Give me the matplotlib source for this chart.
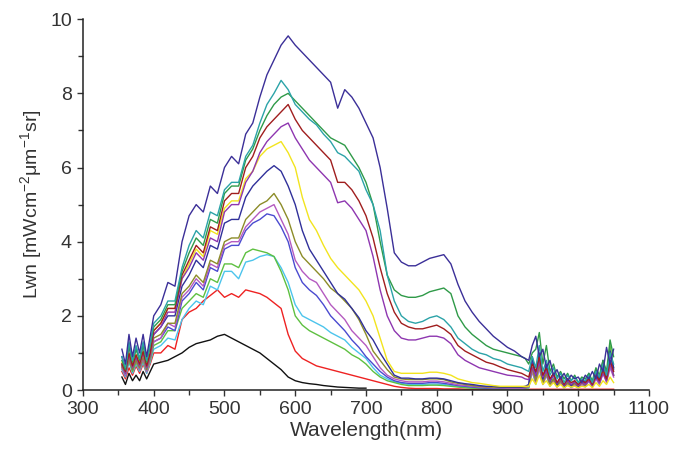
import numpy as np
import matplotlib
matplotlib.use("Agg")
import matplotlib.pyplot as plt
from matplotlib.ticker import MultipleLocator

plt.rcParams['font.family'] = ['Liberation Sans', 'DejaVu Sans']
plt.rcParams['mathtext.fontset'] = 'custom'
plt.rcParams['mathtext.rm'] = 'Liberation Sans'

# wavelength grid (nm): 5 nm at the noisy ends, 10 nm in between
wavelength = np.concatenate([np.arange(355, 400, 5),
                             np.arange(400, 925, 10),
                             np.arange(925, 1051, 5)])

# rows: 355-395 | 400-490 | 500-590 | 600-690 | 700-790 | 800-890 | 900-920 | 925-1050
lwn_1 = [1.1, 0.7, 1.5, 0.9, 1.4, 1.0, 1.5, 0.9, 1.45,
         2.0, 2.3, 2.9, 2.8, 4.0, 4.7, 5.0, 4.8, 5.5, 5.3,
         6.0, 6.3, 6.1, 6.9, 7.2, 7.9, 8.5, 8.9, 9.3, 9.55,
         9.3, 9.1, 8.9, 8.7, 8.5, 8.3, 7.6, 8.1, 7.9, 7.6,
         7.2, 6.8, 6.0, 4.9, 3.7, 3.45, 3.35, 3.35, 3.45, 3.55,
         3.6, 3.65, 3.4, 2.85, 2.4, 2.1, 1.85, 1.65, 1.45, 1.3,
         1.15, 1.05, 0.9,
         0.85, 0.8, 1.2, 1.45, 0.9, 1.1, 0.6, 0.8, 0.4, 0.55, 0.3, 0.45, 0.25,
         0.4, 0.3, 0.35, 0.2, 0.4, 0.3, 0.5, 0.3, 0.7, 0.5, 1.15, 0.7, 1.1]
lwn_2 = [0.9, 0.6, 1.3, 0.8, 1.2, 0.85, 1.3, 0.8, 1.25,
         1.8, 2.0, 2.4, 2.4, 3.3, 3.9, 4.3, 4.1, 4.8, 4.7,
         5.4, 5.6, 5.6, 6.3, 6.6, 7.2, 7.7, 8.0, 8.35, 8.1,
         7.7, 7.5, 7.3, 7.15, 6.9, 6.7, 6.4, 6.3, 6.1, 5.9,
         5.4, 5.0, 4.3, 3.1, 2.4, 2.0, 1.85, 1.8, 1.85, 1.95,
         2.0, 1.9, 1.7, 1.4, 1.25, 1.1, 1.0, 0.95, 0.85, 0.8,
         0.7, 0.65, 0.6,
         0.55, 0.5, 0.9, 0.6, 1.2, 0.5, 0.8, 0.4, 0.6, 0.3, 0.45, 0.2, 0.4,
         0.25, 0.35, 0.2, 0.3, 0.25, 0.4, 0.2, 0.5, 0.35, 0.7, 0.4, 1.0, 0.7]
lwn_3 = [0.8, 0.55, 1.2, 0.75, 1.1, 0.8, 1.2, 0.75, 1.2,
         1.7, 1.9, 2.3, 2.3, 3.2, 3.7, 4.1, 3.9, 4.6, 4.5,
         5.3, 5.5, 5.5, 6.2, 6.5, 7.0, 7.4, 7.7, 7.9, 8.0,
         7.8, 7.6, 7.4, 7.2, 7.0, 6.8, 6.7, 6.6, 6.3, 6.0,
         5.6, 5.0, 4.0, 3.1, 2.7, 2.55, 2.5, 2.5, 2.55, 2.65,
         2.7, 2.75, 2.6, 2.0, 1.7, 1.5, 1.35, 1.2, 1.1, 1.05,
         1.0, 0.95, 0.9,
         0.85, 0.7, 1.0, 1.1, 1.55, 0.7, 1.2, 0.5, 0.7, 0.35, 0.5, 0.3, 0.45,
         0.25, 0.4, 0.2, 0.35, 0.3, 0.45, 0.25, 0.6, 0.4, 0.8, 0.5, 1.35, 0.9]
lwn_4 = [0.7, 0.5, 1.0, 0.65, 0.95, 0.7, 1.05, 0.65, 1.0,
         1.6, 1.8, 2.2, 2.2, 3.1, 3.5, 3.9, 3.7, 4.4, 4.3,
         5.1, 5.3, 5.3, 6.0, 6.3, 6.8, 7.1, 7.3, 7.5, 7.7,
         7.3, 7.0, 6.8, 6.6, 6.4, 6.2, 5.6, 5.6, 5.4, 5.1,
         4.7, 4.1, 3.3, 2.6, 2.1, 1.8, 1.7, 1.65, 1.65, 1.7,
         1.75, 1.65, 1.5, 1.2, 1.05, 0.95, 0.85, 0.75, 0.7, 0.62,
         0.55, 0.5, 0.45,
         0.4, 0.35, 0.7, 0.5, 0.9, 0.4, 0.6, 0.3, 0.45, 0.2, 0.35, 0.15, 0.3,
         0.2, 0.25, 0.15, 0.25, 0.2, 0.3, 0.15, 0.4, 0.25, 0.55, 0.3, 0.8, 0.5]
lwn_5 = [0.7, 0.45, 0.95, 0.6, 0.9, 0.65, 1.0, 0.6, 0.95,
         1.5, 1.7, 2.1, 2.1, 3.0, 3.3, 3.7, 3.5, 4.1, 4.0,
         4.8, 5.0, 5.0, 5.6, 5.9, 6.4, 6.7, 6.9, 7.1, 7.2,
         6.8, 6.5, 6.2, 6.0, 5.8, 5.6, 5.05, 5.1, 4.9, 4.6,
         4.3, 3.6, 2.7, 2.0, 1.6, 1.4, 1.35, 1.35, 1.4, 1.45,
         1.45, 1.4, 1.25, 0.95, 0.8, 0.7, 0.6, 0.55, 0.5, 0.45,
         0.4, 0.38, 0.35,
         0.3, 0.28, 0.6, 0.4, 0.75, 0.35, 0.5, 0.25, 0.4, 0.18, 0.3, 0.12, 0.25,
         0.15, 0.22, 0.12, 0.2, 0.15, 0.25, 0.12, 0.35, 0.2, 0.45, 0.25, 0.7, 0.4]
lwn_6 = [0.75, 0.5, 1.0, 0.65, 0.95, 0.7, 1.0, 0.65, 1.0,
         1.6, 1.8, 2.2, 2.2, 3.0, 3.4, 3.8, 3.6, 4.3, 4.2,
         4.9, 5.1, 5.1, 5.7, 5.9, 6.3, 6.5, 6.6, 6.7, 6.4,
         6.0, 5.2, 4.6, 4.3, 3.9, 3.55, 3.3, 3.1, 2.9, 2.7,
         2.4, 2.0, 1.4, 0.8, 0.5, 0.45, 0.45, 0.45, 0.45, 0.48,
         0.48, 0.45, 0.4, 0.3, 0.25, 0.2, 0.18, 0.15, 0.12, 0.1,
         0.1, 0.1, 0.1,
         0.1, 0.1, 0.3, 0.15, 0.4, 0.15, 0.25, 0.1, 0.2, 0.08, 0.15, 0.06, 0.12,
         0.08, 0.1, 0.06, 0.1, 0.08, 0.15, 0.06, 0.2, 0.1, 0.25, 0.15, 0.35, 0.2]
lwn_7 = [0.9, 0.55, 1.2, 0.7, 1.15, 0.8, 1.25, 0.75, 1.2,
         1.5, 1.7, 2.0, 2.0, 2.8, 3.1, 3.5, 3.3, 3.9, 3.8,
         4.5, 4.6, 4.6, 5.2, 5.5, 5.7, 5.9, 6.05, 5.9, 5.5,
         5.0, 4.3, 3.8, 3.5, 3.2, 2.9, 2.6, 2.45, 2.2, 1.95,
         1.6, 1.35, 1.0, 0.7, 0.4, 0.32, 0.32, 0.3, 0.3, 0.32,
         0.32, 0.3, 0.25, 0.2, 0.17, 0.15, 0.12, 0.1, 0.1, 0.08,
         0.08, 0.08, 0.08,
         0.1, 0.15, 0.9, 0.4, 1.0, 0.3, 0.7, 0.25, 0.45, 0.15, 0.35, 0.1, 0.3,
         0.12, 0.25, 0.1, 0.3, 0.2, 0.45, 0.15, 0.55, 0.3, 0.8, 0.4, 1.05, 0.6]
lwn_8 = [0.65, 0.45, 0.85, 0.55, 0.8, 0.6, 0.9, 0.55, 0.9,
         1.4, 1.5, 1.8, 1.8, 2.6, 2.8, 3.1, 2.9, 3.5, 3.4,
         4.0, 4.1, 4.1, 4.6, 4.8, 5.0, 5.1, 5.3, 5.0, 4.6,
         4.0, 3.6, 3.4, 3.2, 3.0, 2.75, 2.6, 2.4, 2.2, 1.9,
         1.5, 1.05, 0.8, 0.55, 0.35, 0.3, 0.28, 0.28, 0.28, 0.3,
         0.3, 0.28, 0.22, 0.18, 0.15, 0.12, 0.1, 0.08, 0.08, 0.07,
         0.07, 0.07, 0.07,
         0.08, 0.1, 0.6, 0.25, 0.7, 0.2, 0.45, 0.15, 0.3, 0.1, 0.25, 0.08, 0.2,
         0.1, 0.18, 0.08, 0.2, 0.12, 0.3, 0.1, 0.4, 0.2, 0.55, 0.25, 0.75, 0.4]
lwn_9 = [0.6, 0.4, 0.85, 0.55, 0.8, 0.55, 0.85, 0.5, 0.85,
         1.3, 1.4, 1.8, 1.7, 2.5, 2.7, 3.0, 2.8, 3.4, 3.3,
         3.9, 4.0, 4.0, 4.4, 4.6, 4.8, 4.9, 5.0, 4.6, 4.2,
         3.5, 3.2, 3.0, 2.9, 2.6, 2.3, 2.1, 1.9, 1.6, 1.4,
         1.2, 0.9, 0.6, 0.4, 0.3, 0.25, 0.22, 0.22, 0.22, 0.24,
         0.24, 0.22, 0.18, 0.14, 0.12, 0.1, 0.08, 0.07, 0.06, 0.06,
         0.05, 0.05, 0.05,
         0.06, 0.08, 0.5, 0.2, 0.6, 0.15, 0.4, 0.12, 0.25, 0.08, 0.2, 0.06, 0.18,
         0.08, 0.15, 0.06, 0.15, 0.1, 0.25, 0.08, 0.3, 0.15, 0.45, 0.2, 0.6, 0.35]
lwn_10 = [0.65, 0.4, 0.9, 0.55, 0.85, 0.6, 0.9, 0.55, 0.9,
          1.3, 1.4, 1.7, 1.6, 2.4, 2.6, 2.9, 2.7, 3.3, 3.2,
          3.8, 3.9, 3.9, 4.3, 4.5, 4.6, 4.75, 4.7, 4.4, 4.0,
          3.3, 2.9, 2.7, 2.55, 2.3, 2.0, 1.8, 1.6, 1.35, 1.15,
          0.9, 0.7, 0.5, 0.35, 0.25, 0.2, 0.18, 0.18, 0.18, 0.2,
          0.2, 0.18, 0.15, 0.12, 0.1, 0.08, 0.06, 0.05, 0.05, 0.05,
          0.04, 0.04, 0.04,
          0.05, 0.1, 0.8, 0.3, 0.9, 0.25, 0.6, 0.2, 0.4, 0.12, 0.3, 0.08, 0.25,
          0.1, 0.22, 0.08, 0.25, 0.15, 0.4, 0.12, 0.5, 0.25, 0.7, 0.35, 0.95, 0.55]
lwn_11 = [0.6, 0.4, 0.8, 0.5, 0.75, 0.55, 0.8, 0.5, 0.8,
          1.2, 1.3, 1.6, 1.6, 2.2, 2.4, 2.6, 2.5, 3.0, 2.9,
          3.4, 3.4, 3.3, 3.7, 3.8, 3.75, 3.7, 3.6, 3.2, 2.7,
          2.0, 1.75, 1.6, 1.5, 1.4, 1.3, 1.2, 1.1, 0.95, 0.85,
          0.7, 0.5, 0.35, 0.25, 0.2, 0.15, 0.12, 0.12, 0.12, 0.13,
          0.13, 0.12, 0.1, 0.08, 0.06, 0.05, 0.04, 0.04, 0.03, 0.03,
          0.03, 0.03, 0.03,
          0.04, 0.06, 0.6, 0.2, 0.8, 0.2, 0.5, 0.15, 0.3, 0.1, 0.25, 0.06, 0.2,
          0.08, 0.18, 0.06, 0.2, 0.1, 0.35, 0.1, 0.45, 0.2, 0.65, 0.3, 1.2, 0.6]
lwn_12 = [0.55, 0.35, 0.75, 0.45, 0.7, 0.5, 0.75, 0.45, 0.75,
          1.1, 1.2, 1.4, 1.35, 1.9, 2.2, 2.4, 2.3, 2.8, 2.7,
          3.2, 3.2, 3.0, 3.45, 3.5, 3.6, 3.65, 3.6, 3.3, 2.9,
          2.3, 2.0, 1.9, 1.8, 1.7, 1.55, 1.45, 1.35, 1.15, 1.0,
          0.85, 0.6, 0.4, 0.3, 0.22, 0.18, 0.15, 0.15, 0.15, 0.16,
          0.16, 0.15, 0.12, 0.1, 0.08, 0.06, 0.05, 0.04, 0.04, 0.04,
          0.03, 0.03, 0.03,
          0.04, 0.05, 0.5, 0.15, 0.6, 0.15, 0.4, 0.1, 0.25, 0.08, 0.2, 0.05, 0.15,
          0.06, 0.12, 0.05, 0.15, 0.08, 0.25, 0.08, 0.35, 0.15, 0.5, 0.25, 0.7, 0.4]
lwn_13 = [0.5, 0.3, 0.6, 0.4, 0.65, 0.45, 0.7, 0.45, 0.7,
          1.0, 1.0, 1.2, 1.1, 1.9, 2.1, 2.2, 2.4, 2.55, 2.7,
          2.5, 2.6, 2.5, 2.7, 2.65, 2.6, 2.5, 2.35, 2.2, 1.5,
          1.05, 0.85, 0.75, 0.65, 0.6, 0.55, 0.5, 0.45, 0.4, 0.35,
          0.3, 0.25, 0.2, 0.15, 0.1, 0.07, 0.05, 0.04, 0.04, 0.04,
          0.04, 0.03, 0.03, 0.03, 0.02, 0.02, 0.02, 0.02, 0.02, 0.02,
          0.02, 0.02, 0.02,
          0.02, 0.02, 0.02, 0.02, 0.02, 0.02, 0.02, 0.02, 0.02, 0.02, 0.02, 0.02, 0.02,
          0.02, 0.02, 0.02, 0.02, 0.02, 0.02, 0.02, 0.02, 0.02, 0.02, 0.02, 0.02, 0.02]
# black spectrum stops at 700 nm
lwn_14 = [0.35, 0.15, 0.45, 0.25, 0.4, 0.25, 0.5, 0.3, 0.5,
          0.7, 0.75, 0.8, 0.9, 1.0, 1.15, 1.25, 1.3, 1.35, 1.45,
          1.5, 1.4, 1.3, 1.2, 1.1, 1.0, 0.85, 0.7, 0.55, 0.35,
          0.25, 0.2, 0.17, 0.15, 0.12, 0.1, 0.08, 0.07, 0.06, 0.05,
          0.05]

spectra = [lwn_14, lwn_13, lwn_12, lwn_11, lwn_10, lwn_9, lwn_8,
           lwn_7, lwn_6, lwn_5, lwn_4, lwn_3, lwn_2, lwn_1]
colors = ['#111111', '#ee2222', '#4cc4ec', '#5ec040', '#4a4ad0', '#b45ac0', '#8c8c28',
          '#30309a', '#f2e41e', '#8e36b0', '#a01e1e', '#2f9a48', '#2ba3a8', '#3b2f98']

fig = plt.figure(figsize=(6.78, 4.57), dpi=100)
ax = fig.add_axes([0.1224, 0.1466, 0.8348, 0.8114])

for lwn, c in zip(spectra, colors):
    ax.plot(wavelength[:len(lwn)], lwn, color=c, lw=1.0)

ax.set_xlim(300, 1100)
ax.set_ylim(0, 10)
ax.xaxis.set_major_locator(MultipleLocator(100))
ax.xaxis.set_minor_locator(MultipleLocator(50))
ax.yaxis.set_major_locator(MultipleLocator(2))
ax.yaxis.set_minor_locator(MultipleLocator(1))
ax.tick_params(which='major', direction='out', length=4.5, width=1.0,
               labelsize=14, colors='#333333')
ax.tick_params(which='minor', direction='out', length=3.5, width=1.0, colors='#333333')
for side in ['top', 'right']:
    ax.spines[side].set_visible(False)
for side in ['left', 'bottom']:
    ax.spines[side].set_linewidth(1.1)
    ax.spines[side].set_color('#222222')

ax.set_xlabel('Wavelength(nm)', fontsize=15, color='#333333', labelpad=2)
ax.set_ylabel('Lwn [mWcm$^{-2}$μm$^{-1}$sr]', fontsize=14, color='#333333', labelpad=4)

fig.savefig('out.png', dpi=100)
